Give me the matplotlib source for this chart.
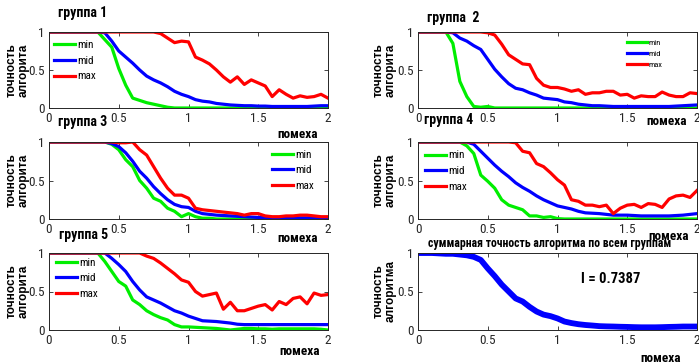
import numpy as np
import matplotlib
matplotlib.use("Agg")
import matplotlib.pyplot as plt

plt.rcParams['font.family'] = ['Liberation Sans Narrow', 'Roboto Condensed', 'Liberation Sans', 'DejaVu Sans']

# noise level (x values) shared by all curves
x = [0, 0.05, 0.1, 0.15, 0.2, 0.25, 0.3, 0.35, 0.4, 0.45, 0.5, 0.55, 0.6, 0.65, 0.7,
     0.75, 0.8, 0.85, 0.9, 0.95, 1.0, 1.05, 1.1, 1.15, 1.2, 1.25, 1.3, 1.35, 1.4,
     1.45, 1.5, 1.55, 1.6, 1.65, 1.7, 1.75, 1.8, 1.85, 1.9, 1.95, 2.0]

# group 1
g1_min = [1, 1, 1, 1, 1, 1, 1, 1, 0.9, 0.8, 0.52, 0.3, 0.13, 0.1, 0.07,
          0.05, 0.03, 0.01, 0, 0, 0, 0, 0, 0, 0, 0, 0, 0, 0,
          0, 0, 0, 0, 0, 0, 0, 0, 0, 0, 0, 0]
g1_mid = [1, 1, 1, 1, 1, 1, 1, 1, 0.99, 0.88, 0.75, 0.67, 0.59, 0.5, 0.42,
          0.37, 0.33, 0.28, 0.22, 0.18, 0.15, 0.11, 0.09, 0.08, 0.06, 0.05, 0.04, 0.035, 0.03,
          0.03, 0.025, 0.025, 0.02, 0.02, 0.02, 0.02, 0.02, 0.02, 0.025, 0.03, 0.03]
g1_max = [1, 1, 1, 1, 1, 1, 1, 1, 1, 1, 1, 1, 1, 1, 1,
          1, 0.98, 0.92, 0.86, 0.88, 0.87, 0.67, 0.63, 0.58, 0.5, 0.41, 0.34, 0.41, 0.31,
          0.37, 0.33, 0.29, 0.15, 0.24, 0.18, 0.13, 0.16, 0.14, 0.15, 0.18, 0.13]

# group 2
g2_min = [1, 1, 1, 1, 1, 0.85, 0.35, 0.15, 0.02, 0.01, 0.02, 0, 0, 0, 0,
          0, 0, 0, 0, 0, 0, 0, 0, 0, 0, 0, 0, 0, 0,
          0, 0, 0, 0, 0, 0, 0, 0, 0, 0, 0, 0]
g2_mid = [1, 1, 1, 1, 1, 0.99, 0.92, 0.88, 0.82, 0.77, 0.64, 0.51, 0.41, 0.32, 0.26,
          0.24, 0.2, 0.17, 0.13, 0.12, 0.11, 0.08, 0.07, 0.05, 0.04, 0.03, 0.03, 0.025, 0.02,
          0.02, 0.02, 0.02, 0.02, 0.02, 0.02, 0.02, 0.02, 0.025, 0.03, 0.035, 0.04]
g2_max = [1, 1, 1, 1, 1, 1, 1, 1, 1, 1, 0.99, 0.96, 0.84, 0.7, 0.64,
          0.58, 0.57, 0.39, 0.3, 0.27, 0.27, 0.25, 0.22, 0.24, 0.18, 0.2, 0.2, 0.22, 0.22,
          0.17, 0.18, 0.13, 0.16, 0.15, 0.15, 0.21, 0.17, 0.15, 0.15, 0.2, 0.19]

# group 3
g3_min = [1, 1, 1, 1, 1, 1, 1, 1, 1, 0.97, 0.9, 0.77, 0.68, 0.5, 0.4,
          0.27, 0.23, 0.14, 0.1, 0.03, 0.07, 0.03, 0.01, 0.01, 0, 0, 0, 0, 0,
          0, 0, 0, 0, 0, 0, 0, 0, 0, 0, 0, 0]
g3_mid = [1, 1, 1, 1, 1, 1, 1, 1, 1, 0.98, 0.94, 0.86, 0.75, 0.62, 0.53,
          0.42, 0.33, 0.25, 0.19, 0.16, 0.15, 0.1, 0.07, 0.06, 0.05, 0.045, 0.04, 0.035, 0.03,
          0.025, 0.02, 0.02, 0.015, 0.015, 0.015, 0.015, 0.015, 0.015, 0.015, 0.015, 0.015]
g3_max = [1, 1, 1, 1, 1, 1, 1, 1, 1, 1, 0.99, 0.99, 1, 0.9, 0.83,
          0.68, 0.53, 0.4, 0.31, 0.31, 0.27, 0.14, 0.12, 0.11, 0.1, 0.09, 0.08, 0.07, 0.05,
          0.07, 0.07, 0.04, 0.03, 0.03, 0.04, 0.04, 0.05, 0.05, 0.04, 0.03, 0.03]

# group 4
g4_min = [1, 1, 1, 1, 1, 1, 1, 0.95, 0.85, 0.57, 0.49, 0.4, 0.25, 0.18, 0.15,
          0.12, 0.04, 0.04, 0.02, 0.03, 0.005, 0, 0, 0, 0, 0, 0, 0, 0,
          0, 0, 0, 0, 0, 0, 0, 0, 0, 0, 0, 0]
g4_mid = [1, 1, 1, 1, 1, 1, 1, 1, 0.97, 0.88, 0.79, 0.7, 0.62, 0.55, 0.47,
          0.41, 0.36, 0.3, 0.25, 0.21, 0.17, 0.15, 0.13, 0.1, 0.08, 0.075, 0.07, 0.06, 0.05,
          0.05, 0.05, 0.045, 0.04, 0.04, 0.04, 0.04, 0.04, 0.045, 0.05, 0.06, 0.07]
g4_max = [1, 1, 1, 1, 1, 1, 1, 1, 1, 1, 1, 1, 1, 1, 0.99,
          0.88, 0.86, 0.72, 0.68, 0.6, 0.51, 0.44, 0.25, 0.23, 0.18, 0.18, 0.16, 0.18, 0.07,
          0.14, 0.18, 0.19, 0.15, 0.2, 0.19, 0.15, 0.26, 0.3, 0.31, 0.28, 0.37]

# group 5
g5_min = [1, 1, 1, 1, 1, 1, 1, 1, 0.89, 0.76, 0.63, 0.57, 0.39, 0.33, 0.25,
          0.2, 0.16, 0.13, 0.07, 0.04, 0.04, 0.035, 0.03, 0.025, 0.02, 0.01, 0, 0.01, 0.02,
          0.02, 0.015, 0.015, 0.01, 0.015, 0.015, 0.015, 0.015, 0.015, 0.015, 0.01, 0]
g5_mid = [1, 1, 1, 1, 1, 1, 1, 1, 1, 0.93, 0.85, 0.76, 0.63, 0.52, 0.43,
          0.39, 0.35, 0.3, 0.25, 0.22, 0.18, 0.15, 0.12, 0.115, 0.11, 0.1, 0.09, 0.075, 0.07,
          0.07, 0.07, 0.07, 0.07, 0.07, 0.07, 0.07, 0.07, 0.07, 0.07, 0.07, 0.07]
g5_max = [1, 1, 1, 1, 1, 1, 1, 1, 1, 1, 1, 1, 1, 1, 0.96,
          0.93, 0.87, 0.8, 0.73, 0.65, 0.62, 0.5, 0.44, 0.46, 0.48, 0.27, 0.36, 0.25, 0.25,
          0.28, 0.31, 0.33, 0.26, 0.37, 0.33, 0.41, 0.43, 0.34, 0.48, 0.45, 0.46]

# summary over all groups
total = [1, 1, 1, 0.995, 0.99, 0.99, 0.98, 0.97, 0.95, 0.91, 0.8, 0.7, 0.59, 0.5, 0.41,
         0.37, 0.3, 0.24, 0.2, 0.18, 0.15, 0.11, 0.09, 0.075, 0.065, 0.058, 0.05, 0.047, 0.045,
         0.042, 0.04, 0.037, 0.035, 0.035, 0.035, 0.037, 0.04, 0.042, 0.045, 0.045, 0.045]
total_label = "I = 0.7387"

groups = [("группа 1", g1_min, g1_mid, g1_max),
          ("группа  2", g2_min, g2_mid, g2_max),
          ("группа 3", g3_min, g3_mid, g3_max),
          ("группа 4", g4_min, g4_mid, g4_max),
          ("группа 5", g5_min, g5_mid, g5_max)]
labels = ["min", "mid", "max"]
colors = ["#00ee00", "#0000ff", "#ff0000"]

W, H = 699, 362
fig = plt.figure(figsize=(W / 100, H / 100), dpi=100)

# axes boxes in pixels: left, top, right, bottom
boxes = [(49, 32, 328, 108), (418, 32, 697, 108),
         (49, 142, 328, 219), (418, 142, 697, 219),
         (49, 253, 328, 330), (418, 253, 697, 330)]
# title position (axes fraction x, pixel gap above top)
title_pos = [(0.12, 19), (0.125, 14), (0.12, 20), (0.11, 22), (0.125, 18), (0.47, 10)]
xlabel_pos = [(0.89, -0.26), (0.89, -0.09), (0.89, -0.17), (0.9, -0.14), (0.9, -0.19), (0.87, -0.28)]
ylabel_x = [-0.068, -0.075, -0.068, -0.075, -0.068, -0.075]
legend_pos = [(0.018, 0.89, 8), (0.75, 0.91, 6), (0.80, 0.90, 8), (0.025, 0.89, 8), (0.025, 0.94, 8)]


def style(ax, i, ylab, title):
    ax.set_xlim(0, 2)
    ax.set_ylim(0, 1)
    ax.set_xticks([0, 0.5, 1, 1.5, 2])
    ax.set_xticklabels(["0", "0.5", "1", "1.5", "2"])
    ax.set_yticks([0, 0.5, 1])
    ax.set_yticklabels(["0", "0.5", "1"])
    ax.tick_params(direction="in", top=True, right=True, length=3, width=0.6,
                   labelsize=9.5, colors="#262626", pad=3)
    for s in ax.spines.values():
        s.set_linewidth(0.7)
        s.set_color("#262626")
    ax.set_ylabel(ylab, fontsize=8.5, fontweight="bold",
                  family=["Liberation Sans", "DejaVu Sans"], linespacing=1.0)
    ax.yaxis.set_label_coords(ylabel_x[i], 0.5)
    ax.set_xlabel("помеха", fontsize=9.5, fontweight="bold")
    ax.xaxis.set_label_coords(*xlabel_pos[i])
    tx, gap = title_pos[i]
    h = boxes[i][3] - boxes[i][1]
    ax.text(tx, 1 + gap / h, title, transform=ax.transAxes, ha="center", va="center",
            fontsize=10 if i < 5 else 8.5, fontweight="bold")


for i, (b, grp) in enumerate(zip(boxes[:5], groups)):
    l, t, r, btm = b
    ax = fig.add_axes([l / W, 1 - btm / H, (r - l) / W, (btm - t) / H])
    title, s_min, s_mid, s_max = grp
    for vals, lab, c in zip([s_min, s_mid, s_max], labels, colors):
        ax.plot(x, vals, color=c, lw=2.3, label=lab)
    style(ax, i, "точность\nалгорита", title)
    lx, ly, fs = legend_pos[i]
    ax.legend(loc="upper left", bbox_to_anchor=(lx, ly), frameon=False, fontsize=fs,
              borderpad=0, borderaxespad=0, handlelength=1.9 if fs > 6 else 2.4,
              handletextpad=0.2, labelspacing=0.5)

l, t, r, btm = boxes[5]
ax = fig.add_axes([l / W, 1 - btm / H, (r - l) / W, (btm - t) / H])
ax.plot(x, total, color="#0000ff", lw=4.2)
style(ax, 5, "точность\nалгоритма", "суммарная точность алгоритма по всем группам")
ax.text(1.38, 0.66, total_label, ha="center", va="center", fontsize=10.5, fontweight="bold")

fig.savefig("out.png", dpi=100)
